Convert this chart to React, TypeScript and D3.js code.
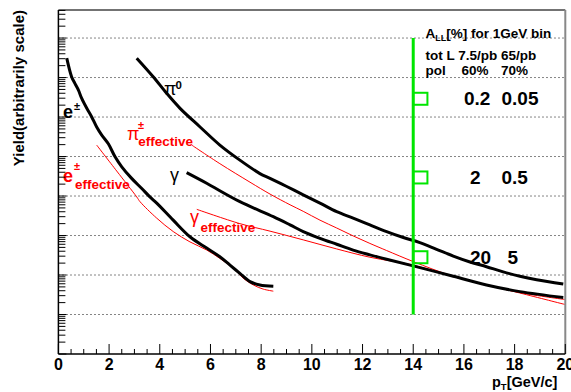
import React from 'react';
import * as d3 from 'd3';

// pT [GeV/c] and yield (arbitrary units)
const ePt = [0.33, 0.52, 0.65, 0.79, 0.92, 1.12, 1.31, 1.51, 1.71, 1.97, 2.23, 2.5, 2.89, 3.29, 3.61, 3.88, 4.53, 5.19, 5.85, 6.37, 6.77, 7.16, 7.56, 7.95, 8.48];
const eYield = [3.1e7, 1.05e7, 7.1e6, 4.8e6, 2.95e6, 1.66e6, 1.02e6, 5.6e5, 3.5e5, 2.1e5, 1.0e5, 5.5e4, 2.8e4, 1.55e4, 9.5e3, 6.6e3, 2.45e3, 930, 480, 290, 178, 110, 68, 56, 52];

const eEffPt = [1.51, 2.3, 3.09, 3.22, 3.88, 4.53, 5.19, 5.85, 6.37, 6.9, 7.29, 7.69, 8.08, 8.48];
const eEffYield = [1.95e5, 4.3e4, 9.5e3, 7.2e3, 2.75e3, 1.26e3, 690, 430, 263, 148, 83, 56, 44, 39];

const pi0Pt = [3.09, 3.74, 4.27, 4.8, 5.59, 6.37, 7.16, 7.95, 8.35, 9.01, 9.66, 10.32, 10.98, 11.63, 12.29, 12.95, 13.61, 14.26, 14.92, 15.58, 16.24, 16.89, 17.55, 18.21, 18.87, 19.92];
const pi0Yield = [3.1e7, 1.05e7, 4.0e6, 1.66e6, 5.6e5, 1.95e5, 8.1e4, 3.7e4, 2.8e4, 1.74e4, 1.07e4, 6.6e3, 4.0e3, 2.75e3, 1.86e3, 1.26e3, 890, 660, 447, 302, 214, 162, 120, 93, 76, 59];

const piEffPt = [5.26, 6.37, 7.56, 8.35, 9.14, 9.66, 10.32, 10.98, 11.63, 12.29, 12.95, 14.0, 15.58, 18.21, 19.98];
const piEffYield = [1.95e5, 6.6e4, 2.24e4, 1.12e4, 6.0e3, 4.1e3, 2.45e3, 1.55e3, 977, 631, 417, 219, 93, 35, 18];

const gamPt = [5.06, 5.85, 7.16, 8.48, 9.14, 9.66, 10.32, 10.98, 11.63, 12.29, 12.95, 14.0, 15.58, 16.89, 18.21, 19.92];
const gamYield = [3.9e4, 2.1e4, 7.2e3, 3.0e3, 1.86e3, 1.26e3, 850, 600, 427, 324, 251, 170, 93, 56, 38, 27];

const gamEffPt = [5.46, 7.16, 8.35, 9.66, 10.98, 12.29, 14.0, 15.58, 18.21, 19.98];
const gamEffYield = [4.6e3, 2.0e3, 1.29e3, 776, 457, 282, 178, 91, 36, 24];

// A_LL markers at 14 GeV
const allPt = 14;
const allLineYield = [10, 1e8];
const allBoxYield = [2.9e6, 2.95e4, 282];
const allTop = ['0.2', '2', '20'];
const allBottom = ['0.05', '0.5', '5'];

const xTickLabels = ['0', '2', '4', '6', '8', '10', '12', '14', '16', '18', '20'];

const FONT = "'Liberation Sans', Arial, Helvetica, sans-serif";

export default function App() {
  const W = 571, H = 392;
  const x = d3.scaleLinear().domain([0, 20]).range([58.4, 565.3]);
  const y = d3.scaleLog().domain([1, 5.13e8]).range([354, 10]);
  const x0 = x.range()[0], x1 = x.range()[1];
  const yb = y.range()[0], yt = y.range()[1];

  const line = d3.line<[number, number]>()
    .x(d => x(d[0])).y(d => y(d[1]))
    .curve(d3.curveCatmullRom.alpha(0.5));
  const path = (px: number[], py: number[]) => line(px.map((p, i) => [p, py[i]]) as [number, number][]) || '';

  const yTicks = y.ticks();
  const isDecade = (v: number) => Math.abs(Math.log10(v) - Math.round(Math.log10(v))) < 1e-6;
  const decades = yTicks.filter(v => isDecade(v) && v > 1);
  const xMinor = d3.range(0, 20.001, 0.5);

  const green = '#00e600';
  const boxW = x(14.56) - x(14);

  return (
    <svg width={W} height={H} style={{ position: 'absolute', left: 0, top: 0, background: '#fff' }} fontFamily={FONT}>
      {/* grid */}
      {decades.map(v => (
        <line key={'g' + v} x1={x0} x2={x1} y1={y(v)} y2={y(v)} stroke="#333" strokeWidth={1} strokeDasharray="1.2,2.8" />
      ))}

      {/* curves */}
      <path d={path(eEffPt, eEffYield)} fill="none" stroke="#ff0000" strokeWidth={1} />
      <path d={path(piEffPt, piEffYield)} fill="none" stroke="#ff0000" strokeWidth={1} />
      <path d={path(gamEffPt, gamEffYield)} fill="none" stroke="#ff0000" strokeWidth={1} />
      <path d={path(ePt, eYield)} fill="none" stroke="#000" strokeWidth={3} />
      <path d={path(pi0Pt, pi0Yield)} fill="none" stroke="#000" strokeWidth={3} />
      <path d={path(gamPt, gamYield)} fill="none" stroke="#000" strokeWidth={3} />

      {/* A_LL line and boxes */}
      <line x1={x(allPt)} x2={x(allPt)} y1={y(allLineYield[0])} y2={y(allLineYield[1])} stroke={green} strokeWidth={3} />
      {allBoxYield.map((v, i) => (
        <rect key={'b' + i} x={x(allPt)} y={y(v) - 6} width={boxW} height={12} fill="none" stroke={green} strokeWidth={2} />
      ))}

      {/* A_LL table */}
      <g fontWeight="bold" fontSize={13.5} fill="#000">
        <text x={425.5} y={38}>A<tspan fontSize={9} dy={3}>LL</tspan><tspan dy={-3}>[%] for 1GeV bin</tspan></text>
        <text x={425.5} y={60}>tot L 7.5/pb 65/pb</text>
        <text x={425.5} y={75}>pol</text>
        <text x={461.5} y={75}>60%</text>
        <text x={501} y={75}>70%</text>
      </g>
      <g fontWeight="bold" fontSize={19} fill="#000">
        {allBoxYield.map((v, i) => (
          <g key={'t' + i}>
            <text x={i === 0 ? 464 : 470} y={y(v) + 6.5}>{allTop[i]}</text>
            <text x={i === 2 ? 507.5 : 501.5} y={y(v) + 6.5}>{allBottom[i]}</text>
          </g>
        ))}
      </g>

      {/* curve labels */}
      <g fill="#000">
        <text x={63} y={118} fontSize={18} fontWeight="bold">e</text>
        <text x={74} y={110} fontSize={11} fontWeight="bold">±</text>
        <text x={164} y={95} fontSize={18}>π</text>
        <text x={175.5} y={88.5} fontSize={11.5} fontWeight="bold">0</text>
        <text x={170} y={181} fontSize={18}>γ</text>
      </g>
      <g fill="#ff0000">
        <text x={127} y={140} fontSize={18}>π</text>
        <text x={138} y={129} fontSize={11} fontWeight="bold">±</text>
        <text x={138.3} y={145.5} fontSize={13.5} fontWeight="bold">effective</text>
        <text x={63} y={182} fontSize={18} fontWeight="bold">e</text>
        <text x={74} y={170} fontSize={11} fontWeight="bold">±</text>
        <text x={75} y={188.5} fontSize={13.5} fontWeight="bold">effective</text>
        <text x={190} y={223} fontSize={18}>γ</text>
        <text x={200.5} y={231.5} fontSize={13.5} fontWeight="bold">effective</text>
      </g>

      {/* frame */}
      <line x1={x0} x2={x1} y1={yt} y2={yt} stroke="#444" strokeWidth={1.5} />
      <line x1={x1} x2={x1} y1={yt} y2={yb} stroke="#888" strokeWidth={2} />

      {/* y axis */}
      <line x1={x0} x2={x0} y1={yt} y2={yb} stroke="#000" strokeWidth={1.5} />
      {yTicks.map(v => (
        <line key={'yt' + v} x1={x0} x2={x0 + (isDecade(v) ? 8 : 7)} y1={y(v)} y2={y(v)} stroke="#000" strokeWidth={1} />
      ))}

      {/* x axis */}
      <line x1={x0} x2={x1} y1={yb} y2={yb} stroke="#000" strokeWidth={1.5} />
      {xMinor.map(v => (
        <line key={'xt' + v} x1={x(v)} x2={x(v)} y1={yb} y2={yb - (v % 2 === 0 ? 10 : 5)} stroke="#000" strokeWidth={1} />
      ))}
      <g fontWeight="bold" fontSize={16} textAnchor="middle" fill="#000">
        {xTickLabels.map(t => (
          <text key={'xl' + t} x={x(+t)} y={370}>{t}</text>
        ))}
      </g>

      {/* titles */}
      <text x={492} y={386.5} fontSize={14.5} fontWeight="bold" fill="#000">p<tspan fontSize={9.5} dy={3}>T</tspan><tspan dy={-3}>[GeV/c]</tspan></text>
      <text transform="translate(24,10) rotate(-90)" textAnchor="end" fontSize={15} fontWeight="bold" fill="#000">Yield(arbitrarily scale)</text>
    </svg>
  );
}
